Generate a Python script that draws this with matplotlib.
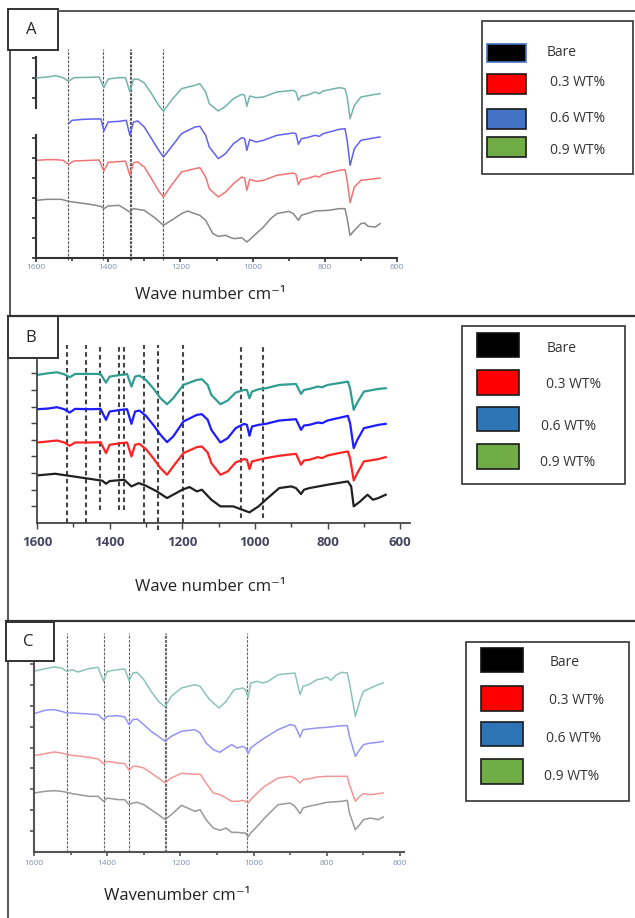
import numpy as np
import matplotlib
matplotlib.use("Agg")
import matplotlib.pyplot as plt
from matplotlib.patches import Rectangle

# ---------------- DATA (intensity in arbitrary units, offset stacked) ----------------
series_labels = ["Bare", "0.3 WT%", "0.6 WT%", "0.9 WT%"]
major_ticks = [1600, 1400, 1200, 1000, 800, 600]
minor_ticks = [1500, 1300, 1100, 900, 700]

# Panel A
A_wn = [1600, 1570, 1545, 1525, 1510, 1495, 1450, 1425, 1412, 1400, 1370, 1352, 1340, 1330, 1318,
        1300, 1280, 1260, 1247, 1225, 1197, 1160, 1146, 1130, 1120, 1095, 1075, 1053, 1030, 1022,
        1016, 1008, 990, 970, 933, 887, 880, 873, 865, 850, 827, 815, 805, 760, 744, 738, 730, 718,
        700, 660, 647]
A_09 = [540, 543, 547, 541, 530, 541, 542, 543, 511, 537, 541, 541, 498, 536, 537,
        525, 493, 458, 440, 473, 508, 518, 523, 498, 463, 441, 455, 478, 491, 488,
        455, 486, 481, 483, 498, 503, 498, 473, 486, 488, 498, 493, 501, 511, 508, 483, 418, 458,
        483, 491, 493]
A_03 = [293, 295, 295, 293, 281, 291, 293, 294, 261, 287, 289, 291, 248, 286, 288,
        273, 238, 201, 183, 218, 258, 268, 271, 243, 208, 183, 198, 223, 243, 240,
        203, 236, 230, 233, 248, 255, 251, 220, 236, 238, 246, 243, 251, 263, 265, 233, 166, 213,
        233, 238, 240]
A06_wn = [1510, 1500, 1470, 1440, 1420, 1412, 1400, 1370, 1350, 1340, 1330, 1318, 1300, 1280, 1260,
          1247, 1225, 1197, 1160, 1146, 1130, 1120, 1095, 1075, 1053, 1030, 1022, 1016, 1008, 990,
          970, 933, 887, 880, 873, 865, 850, 827, 815, 805, 760, 744, 738, 730, 718, 700, 660, 647]
A_06 = [403, 413, 416, 417, 417, 381, 408, 410, 413, 368, 408, 411, 393, 358, 323,
        303, 333, 373, 393, 395, 368, 333, 298, 313, 343, 361, 358, 323, 355, 348,
        353, 368, 375, 373, 341, 358, 361, 368, 365, 373, 386, 388, 353, 278, 328, 353, 361, 363]
Abare_wn = [1600, 1570, 1530, 1510, 1450, 1420, 1412, 1400, 1370, 1340, 1330, 1300, 1270, 1247, 1225,
            1197, 1180, 1160, 1146, 1130, 1110, 1095, 1075, 1060, 1050, 1030, 1016, 1008, 990, 970,
            950, 933, 900, 887, 873, 865, 850, 827, 790, 760, 744, 738, 730, 718, 700, 690, 680, 660, 647]
A_bare = [173, 176, 176, 170, 161, 155, 148, 156, 158, 138, 148, 143, 120, 98, 113,
          133, 141, 133, 128, 113, 73, 65, 68, 61, 58, 61, 48, 55, 73, 93,
          118, 133, 140, 133, 113, 128, 133, 141, 143, 148, 148, 118, 68, 83, 103, 105, 95, 93, 103]
A_marks = [1511, 1414, 1340, 1248]

# Panel B
B_wn = [1600, 1570, 1545, 1525, 1510, 1495, 1450, 1425, 1410, 1400, 1370, 1352, 1340, 1330, 1318,
        1300, 1280, 1260, 1242, 1225, 1197, 1160, 1146, 1130, 1120, 1095, 1075, 1053, 1030, 1022,
        1015, 1008, 990, 970, 933, 887, 873, 865, 850, 827, 815, 800, 760, 744, 738, 728, 718, 700,
        660, 640]
B_09 = [445, 450, 453, 447, 438, 448, 448, 448, 422, 440, 445, 448, 410, 440, 443,
        430, 405, 375, 357, 375, 415, 430, 432, 415, 385, 357, 368, 392, 400, 400,
        375, 395, 402, 405, 415, 418, 388, 400, 403, 410, 408, 415, 422, 425, 405, 340, 362, 395,
        403, 405]
B_06 = [342, 344, 348, 342, 332, 343, 342, 343, 310, 335, 340, 342, 298, 335, 338,
        322, 295, 265, 243, 260, 305, 325, 327, 310, 280, 242, 255, 285, 298, 295,
        262, 290, 295, 298, 308, 312, 280, 293, 295, 302, 300, 308, 318, 322, 300, 225, 250, 285,
        295, 298]
B_03 = [242, 245, 248, 242, 232, 242, 242, 243, 210, 235, 240, 242, 200, 235, 238,
        222, 195, 165, 145, 170, 210, 228, 230, 212, 180, 145, 155, 182, 192, 190,
        162, 185, 190, 195, 202, 208, 175, 188, 190, 198, 195, 203, 212, 215, 195, 128, 150, 185,
        192, 198]
Bbare_wn = [1600, 1550, 1500, 1450, 1420, 1410, 1400, 1380, 1360, 1340, 1320, 1300, 1270, 1242, 1220,
            1200, 1180, 1160, 1146, 1120, 1095, 1060, 1040, 1015, 990, 970, 933, 900, 887, 873,
            865, 850, 800, 744, 735, 728, 710, 690, 675, 660, 640]
B_bare = [143, 148, 140, 132, 127, 118, 126, 128, 130, 110, 120, 112, 95, 75, 88,
          100, 108, 95, 100, 70, 50, 50, 42, 32, 50, 70, 105, 110, 105, 87,
          100, 105, 115, 125, 110, 50, 65, 85, 70, 75, 85]
B_marks = [1517, 1465, 1426, 1374, 1360, 1305, 1267, 1198, 1038, 977]
B_mark_low = [0, 0, 40, 40, 40, 0, -20, 0, 15, 15]

# Panel C
C09_wn = [1600, 1570, 1545, 1525, 1510, 1495, 1480, 1450, 1425, 1410, 1400, 1370, 1352, 1340, 1330,
          1318, 1300, 1280, 1260, 1242, 1225, 1197, 1160, 1146, 1130, 1120, 1094, 1075, 1053, 1030,
          1022, 1015, 1008, 990, 975, 960, 933, 887, 873, 865, 850, 827, 815, 800, 788,
          775, 760, 744, 738, 722, 710, 700, 680, 660, 646]
C_09 = [542, 550, 555, 552, 542, 547, 540, 550, 554, 512, 542, 547, 549, 514, 537,
        539, 517, 482, 452, 435, 467, 492, 502, 497, 472, 457, 432, 452, 487, 492,
        487, 462, 507, 512, 507, 512, 532, 537, 472, 497, 502, 517, 519, 525, 515,
        530, 539, 537, 507, 407, 452, 482, 492, 502, 507]
C_wn = [1600, 1570, 1545, 1525, 1510, 1495, 1450, 1425, 1410, 1400, 1370, 1352, 1340, 1330, 1318,
        1300, 1280, 1260, 1242, 1225, 1197, 1160, 1146, 1130, 1110, 1092, 1075, 1060, 1045, 1030,
        1022, 1015, 1008, 990, 970, 933, 900, 887, 873, 865, 850, 827, 800, 760, 744,
        738, 722, 710, 700, 680, 660, 646]
C_06 = [415, 425, 427, 422, 417, 417, 414, 412, 397, 407, 409, 405, 382, 397, 399,
        382, 362, 347, 332, 347, 362, 367, 357, 327, 307, 299, 312, 322, 312, 317,
        312, 295, 312, 327, 342, 367, 382, 379, 345, 367, 369, 372, 374, 379, 379,
        347, 287, 307, 322, 327, 329, 332]
C_03 = [289, 295, 300, 297, 292, 290, 284, 279, 265, 272, 267, 265, 245, 257, 257,
        252, 237, 222, 207, 222, 236, 233, 234, 207, 177, 172, 162, 152, 152, 155,
        152, 147, 157, 177, 197, 222, 227, 222, 207, 217, 219, 225, 227, 227, 227,
        202, 152, 167, 175, 172, 175, 177]
C_bare = [177, 182, 184, 182, 179, 175, 167, 167, 152, 162, 157, 157, 142, 147, 149,
          142, 127, 112, 97, 112, 140, 122, 127, 97, 72, 65, 72, 59, 59, 57,
          57, 45, 57, 77, 102, 142, 147, 137, 115, 132, 137, 142, 149, 152, 155,
          117, 67, 82, 97, 102, 97, 105]
C_marks = [1510, 1410, 1340, 1243, 1018]

# ---------------- FIGURE ----------------
W, H = 635, 918
fig = plt.figure(figsize=(W / 100, H / 100), dpi=100)
fig.patch.set_facecolor("white")
FONT = ["Open Sans", "DejaVu Sans"]


def px_axes(l, t, r, b):
    return fig.add_axes([l / W, 1 - b / H, (r - l) / W, (b - t) / H])


ov = fig.add_axes([0, 0, 1, 1])
ov.set_xlim(0, W)
ov.set_ylim(H, 0)
ov.axis("off")

bc = "#3a3a3a"
# panel frame lines
ov.plot([58, 635], [11, 11], color="#555555", lw=1.4)
ov.plot([10, 10], [50, 316], color=bc, lw=1.2)
ov.plot([8, 635], [316, 316], color="#333333", lw=1.6)
ov.plot([8, 8], [358, 621], color=bc, lw=1.2)
ov.plot([6, 635], [621, 621], color="#333333", lw=1.6)
ov.plot([8, 8], [661, 918], color=bc, lw=1.2)
for (x0, y0, x1, y1, lab) in [(8, 9, 58, 50, "A"), (8, 316, 58, 358, "B"), (6, 622, 54, 661, "C")]:
    ov.add_patch(Rectangle((x0, y0), x1 - x0, y1 - y0, fill=False, ec="#222222", lw=1.3))
    ov.text((x0 + x1) / 2 - 2, (y0 + y1) / 2 + 1, lab, ha="center", va="center",
            fontsize=12, family=FONT, color="#222222")


def legend(box, sw_x, sw_rows, txt_pos, blue, black_edge):
    x0, y0, x1, y1 = box
    ov.add_patch(Rectangle((x0, y0), x1 - x0, y1 - y0, fill=False, ec="#333333", lw=1.2))
    cols = ["#000000", "#ff0000", blue, "#70ad47"]
    for i, (ya, yb) in enumerate(sw_rows):
        ec = black_edge if i == 0 else "#1a1a1a"
        ov.add_patch(Rectangle((sw_x[0], ya), sw_x[1] - sw_x[0], yb - ya, fc=cols[i], ec=ec, lw=1.2))
        ov.text(txt_pos[i][0], txt_pos[i][1], series_labels[i], ha="left", va="center",
                fontsize=10, family=FONT, color="#333333")


legend((482, 21, 633, 174), (487, 526), [(44, 62), (74, 94), (109, 129), (137, 157)],
       [(547, 52), (550, 83), (550, 119), (550, 151)], "#4472c4", "#4472c4")
legend((462, 326, 625, 484), (477, 519), [(333, 357), (370, 395), (407, 431), (444, 469)],
       [(547, 349), (546, 384), (541, 426), (540, 462)], "#2e75b6", "#111111")
legend((466, 642, 629, 801), (481, 523), [(648, 672), (686, 711), (722, 746), (759, 784)],
       [(550, 662), (549, 700), (546, 738), (544, 777)], "#2e75b6", "#111111")

# x labels
for (xc, yc, txt) in [(210, 295, "Wave number cm\u207b\u00b9"), (210, 587, "Wave number cm\u207b\u00b9"),
                      (177, 896, "Wavenumber cm\u207b\u00b9")]:
    ov.text(xc, yc, txt, ha="center", va="center", fontsize=12, family=FONT, color="#222222")


def style_axes(ax, xlim, ylim, spine_top, yticks, scol, slw, lab_size, lab_col, lab_w, pad, tlen):
    ax.set_facecolor("none")
    ax.set_xlim(*xlim)
    ax.set_ylim(*ylim)
    for s in ["top", "right"]:
        ax.spines[s].set_visible(False)
    for s in ["left", "bottom"]:
        ax.spines[s].set_color(scol)
        ax.spines[s].set_linewidth(slw)
    ax.spines["left"].set_bounds(0, spine_top)
    ax.set_xticks(major_ticks)
    ax.set_xticks(minor_ticks, minor=True)
    ax.set_xticklabels([str(t) for t in major_ticks])
    ax.set_yticks(yticks)
    ax.tick_params(axis="y", labelleft=False, direction="out", length=tlen, width=slw * 0.8, color=scol)
    ax.tick_params(axis="x", which="major", direction="out", length=tlen, width=slw * 0.8, color=scol,
                   labelsize=lab_size, labelcolor=lab_col, pad=pad)
    ax.tick_params(axis="x", which="minor", direction="out", length=tlen * 0.8, width=slw * 0.8, color=scol)
    for t in ax.get_xticklabels():
        t.set_fontweight(lab_w)
        t.set_family(FONT)


# ---- Panel A ----
axA = px_axes(36, 48, 397, 258)
style_axes(axA, (1600, 600), (0, 630), 368, [0, 60, 120, 180, 240, 300, 360, 480, 540, 600],
           "#333333", 1.5, 6, "#8090b0", "normal", 1, 3)
axA.plot([0, 0], [450, 603], transform=axA.get_yaxis_transform(), color="#333333", lw=1.5, clip_on=False)
for m in A_marks:
    axA.vlines(m, -6, 628, colors="#555555", lw=0.8, linestyles=(0, (2.5, 1.2)), clip_on=False)
axA.vlines(1337.5, -6, 628, colors="#555555", lw=0.8, linestyles=(0, (2.5, 1.2)), clip_on=False)
axA.plot(A_wn, A_09, color="#74b3aa", lw=1.1)
axA.plot(A06_wn, A_06, color="#6161ec", lw=1.1)
axA.plot(A_wn, A_03, color="#f07474", lw=1.1)
axA.plot(Abare_wn, A_bare, color="#888888", lw=1.1)

# ---- Panel B ----
axB = px_axes(37, 345, 410, 523)
style_axes(axB, (1600, 573), (0, 535), 490, [50, 100, 150, 200, 250, 300, 350, 400, 450],
           "#444444", 1.3, 9.5, "#454560", "bold", 5, 4)
for m, lo in zip(B_marks, B_mark_low):
    axB.vlines(m, lo, 535, colors="#444444", lw=1.5, linestyles=(0, (2.2, 1.6)), clip_on=False)
axB.plot(B_wn, B_09, color="#2f9d91", lw=1.6)
axB.plot(B_wn, B_06, color="#1c1cff", lw=1.6)
axB.plot(B_wn, B_03, color="#ff2424", lw=1.6)
axB.plot(Bbare_wn, B_bare, color="#202020", lw=1.6)

# ---- Panel C ----
axC = px_axes(34, 633, 404, 852)
style_axes(axC, (1600, 589), (0, 657), 567, [62.7 * k for k in range(1, 10)],
           "#555555", 1.5, 6, "#8090b0", "normal", 3, 3)
for m in C_marks:
    axC.vlines(m, 0, 657, colors="#666666", lw=0.8, linestyles=(0, (2.5, 1.2)), clip_on=False)
axC.vlines(1240.5, 0, 657, colors="#666666", lw=0.8, linestyles=(0, (2.5, 1.2)), clip_on=False)
axC.plot(C09_wn, C_09, color="#8cc4ba", lw=1.1)
axC.plot(C_wn, C_06, color="#9494f6", lw=1.1)
axC.plot(C_wn, C_03, color="#f29696", lw=1.1)
axC.plot(C_wn, C_bare, color="#999999", lw=1.1)

fig.savefig("out.png", dpi=100, facecolor="white")
